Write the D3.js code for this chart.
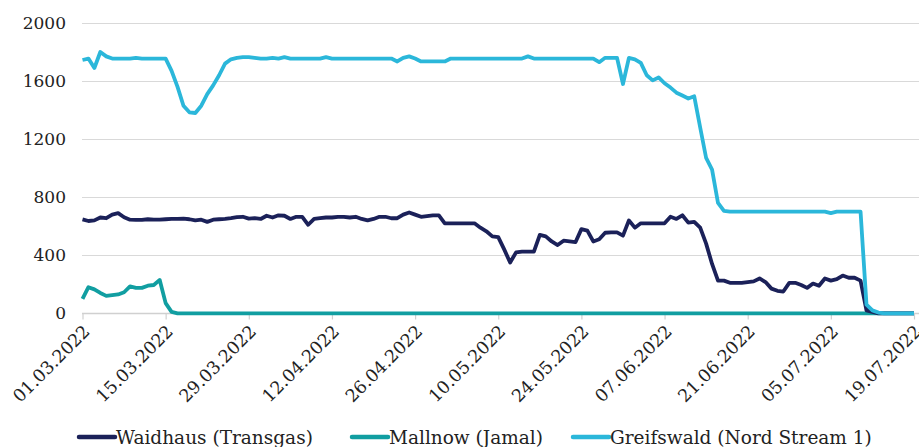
<!DOCTYPE html>
<html>
<head>
<meta charset="utf-8">
<script src="https://cdn.jsdelivr.net/npm/d3@7"></script>
<style>
  body { margin: 0; background: #fff; }
  svg { display: block; }
  text { font-family: "DejaVu Serif", serif; fill: #222; }
</style>
</head>
<body>
<svg width="919" height="447"></svg>
<script>
// daily values from 01.03.2022 to 19.07.2022
var startDate = new Date(2022, 2, 1);
var endDate = new Date(2022, 6, 19);
var yTicks = [0, 400, 800, 1200, 1600, 2000];
var seriesNames = ["Waidhaus (Transgas)", "Mallnow (Jamal)", "Greifswald (Nord Stream 1)"];
var seriesColors = ["#1b2159", "#119ea1", "#2bb7da"];

var waidhaus = [
  647, 636, 640, 660, 655, 680, 690, 662, 645, 643,
  643, 648, 645, 645, 648, 650, 650, 652, 648, 640,
  645, 630, 645, 648, 650, 655, 662, 665, 652, 655,
  650, 672, 660, 675, 672, 650, 665, 665, 610, 650,
  655, 660, 660, 665, 665, 660, 665, 650, 640, 650,
  665, 665, 655, 655, 680, 695, 680, 665, 670, 675,
  675, 620, 620, 620, 620, 620, 620, 590, 565, 530,
  525, 440, 350, 420, 425, 425, 425, 540, 530, 495,
  470, 500, 495, 490, 580, 570, 495, 510, 555, 558,
  558, 535, 640, 590, 620, 620, 620, 620, 620, 665,
  650, 675, 625, 630, 590, 480, 340, 225, 225, 210,
  210, 210, 215, 220, 240, 215, 170, 155, 150, 210,
  210, 195, 175, 205, 190, 240, 225, 235, 260, 245,
  245, 225, 20, 10, 0, 0, 0, 0, 0, 0,
  0
];
var mallnow = [
  100, 180, 165, 140, 120, 125, 130, 145, 185, 175,
  175, 190, 195, 230, 70, 10, 0, 0, 0, 0,
  0, 0, 0, 0, 0, 0, 0, 0, 0, 0,
  0, 0, 0, 0, 0, 0, 0, 0, 0, 0,
  0, 0, 0, 0, 0, 0, 0, 0, 0, 0,
  0, 0, 0, 0, 0, 0, 0, 0, 0, 0,
  0, 0, 0, 0, 0, 0, 0, 0, 0, 0,
  0, 0, 0, 0, 0, 0, 0, 0, 0, 0,
  0, 0, 0, 0, 0, 0, 0, 0, 0, 0,
  0, 0, 0, 0, 0, 0, 0, 0, 0, 0,
  0, 0, 0, 0, 0, 0, 0, 0, 0, 0,
  0, 0, 0, 0, 0, 0, 0, 0, 0, 0,
  0, 0, 0, 0, 0, 0, 0, 0, 0, 0,
  0, 0, 0, 0, 0, 0, 0, 0, 0, 0,
  0
];
var greifswald = [
  1745, 1755, 1690, 1800, 1770, 1755, 1755, 1755, 1755, 1760,
  1755, 1755, 1755, 1755, 1755, 1670, 1560, 1430, 1385, 1380,
  1430, 1510, 1570, 1640, 1720, 1750, 1760, 1765, 1765, 1760,
  1755, 1755, 1760, 1755, 1765, 1755, 1755, 1755, 1755, 1755,
  1755, 1765, 1755, 1755, 1755, 1755, 1755, 1755, 1755, 1755,
  1755, 1755, 1755, 1735, 1760, 1770, 1755, 1735, 1735, 1735,
  1735, 1735, 1755, 1755, 1755, 1755, 1755, 1755, 1755, 1755,
  1755, 1755, 1755, 1755, 1755, 1770, 1755, 1755, 1755, 1755,
  1755, 1755, 1755, 1755, 1755, 1755, 1755, 1730, 1760, 1760,
  1760, 1580, 1760, 1750, 1725, 1640, 1605, 1625, 1585, 1555,
  1520, 1500, 1480, 1495, 1280, 1070, 990, 760, 705, 700,
  700, 700, 700, 700, 700, 700, 700, 700, 700, 700,
  700, 700, 700, 700, 700, 700, 690, 700, 700, 700,
  700, 700, 60, 20, 5, 0, 0, 0, 0, 0,
  0
];

var svg = d3.select("svg");
var days = d3.timeDay.range(startDate, d3.timeDay.offset(endDate, 1));
var tickDates = d3.timeDay.range(startDate, d3.timeDay.offset(endDate, 1), 14);

var x = d3.scaleTime().domain([startDate, endDate]).range([82.5, 914]);
var y = d3.scaleLinear().domain([0, 2000]).range([313.3, 23]);

// gridlines
svg.append("g").selectAll("line")
  .data(yTicks.filter(function(d){ return d > 0; }))
  .enter().append("line")
  .attr("x1", 82).attr("x2", 919)
  .attr("y1", function(d){ return Math.round(y(d)) + 0.5; })
  .attr("y2", function(d){ return Math.round(y(d)) + 0.5; })
  .attr("stroke", "#d9d9d9")
  .attr("stroke-width", 1.2);

// y labels
svg.append("g").selectAll("text")
  .data(yTicks)
  .enter().append("text")
  .attr("x", 66)
  .attr("y", function(d){ return y(d); })
  .attr("dy", "0.36em")
  .attr("text-anchor", "end")
  .style("font-size", "17px")
  .text(function(d){ return d; });

// x axis
var xAxis = d3.axisBottom(x)
  .tickValues(tickDates)
  .tickSize(6)
  .tickFormat(d3.timeFormat("%d.%m.%Y"));
var gx = svg.append("g")
  .attr("transform", "translate(0," + (Math.round(y(0)) + 0.5) + ")")
  .call(xAxis);
gx.select(".domain").attr("d", "M82,0H919").attr("stroke", "#d0d0d0").attr("stroke-width", 1.5);
gx.selectAll(".tick line").attr("stroke", "#d0d0d0").attr("stroke-width", 1.2);
gx.selectAll(".tick text")
  .attr("fill", "#222")
  .style("font-family", "DejaVu Serif")
  .style("font-size", "17.5px")
  .attr("text-anchor", "end")
  .attr("y", 0).attr("dy", 0)
  .attr("transform", "translate(8,19) rotate(-45)");

// lines
var line = d3.line()
  .x(function(d, i){ return x(days[i]); })
  .y(function(d){ return y(d); });
var allSeries = [mallnow, waidhaus, greifswald];
var allColors = [seriesColors[1], seriesColors[0], seriesColors[2]];
allSeries.forEach(function(s, k){
  svg.append("path")
    .datum(s)
    .attr("d", line)
    .attr("fill", "none")
    .attr("stroke", allColors[k])
    .attr("stroke-width", 3.8)
    .attr("stroke-linejoin", "round");
});

// legend
var legendX = [79, 352, 573];
var lg = svg.append("g");
seriesNames.forEach(function(name, i){
  lg.append("line")
    .attr("x1", legendX[i]).attr("x2", legendX[i] + 36)
    .attr("y1", 437).attr("y2", 437)
    .attr("stroke", seriesColors[i])
    .attr("stroke-width", 4.5)
    .attr("stroke-linecap", "round");
  lg.append("text")
    .attr("x", legendX[i] + 37)
    .attr("y", 437)
    .attr("dy", "0.36em")
    .style("font-size", "18.5px")
    .text(name);
});
</script>
</body>
</html>
